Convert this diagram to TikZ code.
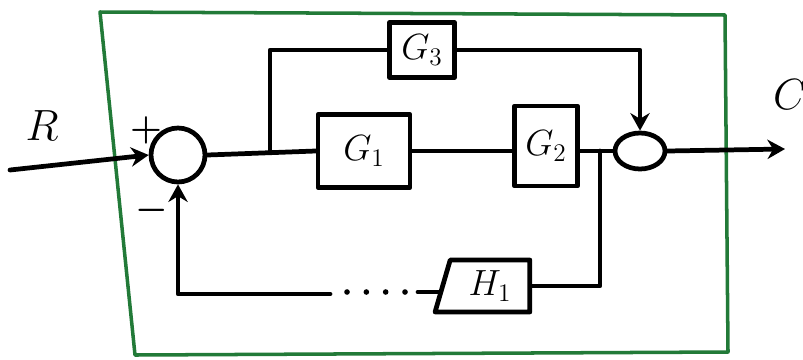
\documentclass[tikz,border=0pt]{standalone}
\usepackage{amsmath,amssymb}
\usepackage{tikz}
\usetikzlibrary{calc,arrows.meta,shapes.geometric}
\definecolor{boxgreen}{RGB}{34,122,56}

\begin{document}
\begin{tikzpicture}[x = 0.02cm, y = -0.02cm,
        wire/.style = {line width = 2.7pt, line cap = round, line join = round},
        blk/.style = {draw, wire, inner sep = 0pt, font = \huge},
        sumnode/.style = {draw, wire, circle, minimum size = 1.08cm, inner sep = 0pt},
        arr/.style = {wire, -{Stealth[length = 10pt, width = 11pt]}}]
                \useasboundingbox(0,0)rectangle(803,359);
                % green frame
                \path[draw, boxgreen, line width = 2pt, line join = round](100,12)to(725,15)to(728,352)to(135,355)--cycle;
                % blocks
                \node[sumnode](S1)at(178,155){};
                \node[blk, minimum width = 1.84cm, minimum height = 1.46cm](G1)at(364,151){$G_1$};
                \node[blk, minimum width = 1.26cm, minimum height = 1.6cm](G2)at(546,146){$G_2$};
                \node[blk, minimum width = 1.3cm, minimum height = 1.1cm](G3)at(422,50){$G_3$};
                \node[draw, wire, ellipse, minimum width = 1cm, minimum height = 0.72cm, inner sep = 0pt](S2)at(640,151){};
                \node[blk, trapezium, trapezium left angle = 75, trapezium right angle = 90,
                    minimum width = 1.9cm, minimum height = 1.04cm, trapezium stretches = true](H1)at(490,286){$H_1$};
                % labels
                \node[font = \Huge](R)at(42,126){$R$};
                \node[font = \Huge](C)at(790,95){$C$};
                \node[font = \huge](P)at(146,130){$\boldsymbol{+}$};
                \node[font = \huge](M)at(152,210){$\boldsymbol{-}$};
                % helper points
                \coordinate(Rin)at(10,170);
                \coordinate(B1)at(270,151);
                \coordinate(J)at(600,151);
                \coordinate(Cout)at(785,149);
                \coordinate(D1)at(418,292);
                \coordinate(D2)at(405,292);
                \coordinate(D3)at(345,292);
                \coordinate(D4)at(330,294);
                % forward path
                \path[draw, arr](Rin)to(S1.west);
                \path[draw, wire](S1.east)to(G1.west);
                \path[draw, wire](G1.east)to(G1.east-|G2.west);
                \path[draw, wire](G2.east|-J)to(S2.west);
                \path[draw, arr](S2.east)to(Cout);
                % parallel branch
                \path[draw, wire](B1)|-(G3.west);
                \path[draw, arr](G3.east)-|(S2.north);
                % feedback
                \path[draw, wire](J)|-(H1.east);
                \path[draw, wire](H1.west|-D1)to(D1);
                \path[draw, line width = 3.2pt, line cap = round, dash pattern = on 0pt off 11pt](D2)to(D3);
                \path[draw, arr](D4)-|(S1.south);
            \end{tikzpicture}
\end{document}
